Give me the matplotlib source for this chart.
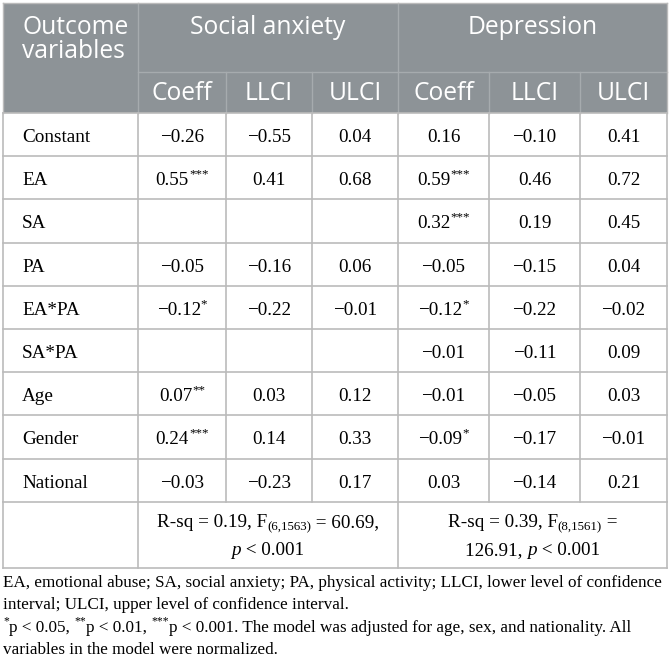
import matplotlib
matplotlib.use('Agg')
from matplotlib import pyplot as plt
from matplotlib.patches import Rectangle

# table content
rows = ['Constant', 'EA', 'SA', 'PA', 'EA*PA', 'SA*PA', 'Age', 'Gender', 'National']
groups = ['Social anxiety', 'Depression']
subheads = ['Coeff', 'LLCI', 'ULCI']

sa_coeff = [-0.26, 0.55, None, -0.05, -0.12, None, 0.07, 0.24, -0.03]
sa_stars = ['', '***', '', '', '*', '', '**', '***', '']
sa_llci = [-0.55, 0.41, None, -0.16, -0.22, None, 0.03, 0.14, -0.23]
sa_ulci = [0.04, 0.68, None, 0.06, -0.01, None, 0.12, 0.33, 0.17]

dep_coeff = [0.16, 0.59, 0.32, -0.05, -0.12, -0.01, -0.01, -0.09, 0.03]
dep_stars = ['', '***', '***', '', '*', '', '', '*', '']
dep_llci = [-0.10, 0.46, 0.19, -0.15, -0.22, -0.11, -0.05, -0.17, -0.14]
dep_ulci = [0.41, 0.72, 0.45, 0.04, -0.02, 0.09, 0.03, -0.01, 0.21]

# pieces: (text, kind)  kind: n normal, b subscript, u superscript, i italic
fit_sa = [[('R-sq = 0.19, F', 'n'), ('(6,1563)', 'b'), (' = 60.69,', 'n')],
          [('p', 'i'), (' < 0.001', 'n')]]
fit_dep = [[('R-sq = 0.39, F', 'n'), ('(8,1561)', 'b'), (' =', 'n')],
           [('126.91, ', 'n'), ('p', 'i'), (' < 0.001', 'n')]]

notes = [[('EA, emotional abuse; SA, social anxiety; PA, physical activity; LLCI, lower level of confidence', 'n')],
         [('interval; ULCI, upper level of confidence interval.', 'n')],
         [('*', 'u'), ('p < 0.05, ', 'n'), ('**', 'u'), ('p < 0.01, ', 'n'), ('***', 'u'),
          ('p < 0.001. The model was adjusted for age, sex, and nationality. All', 'n')],
         [('variables in the model were normalized.', 'n')]]

# layout (pixels)
xs = [3, 138, 226, 312, 398, 489, 580, 667]
top, h1, h2 = 3, 72, 113
rh = 43.2
fit_bot = 568
hdr_col = '#8d9397'
line_col = '#bbbbbb'
hline_col = '#a6abae'
serif = 'Liberation Serif'
sans = 'Open Sans'
fs_body = 13.8
fs_note = 12.3

fig = plt.figure(figsize=(6.70, 6.69), dpi=100)
ax = fig.add_axes([0, 0, 1, 1])
ax.set_xlim(0, 670)
ax.set_ylim(669, 0)
ax.axis('off')
renderer = fig.canvas.get_renderer()


def runs(x, y, parts, fs, ha='center'):
    # draw text pieces side by side on one baseline
    objs = []
    for txt, kind in parts:
        size = fs * 0.68 if kind in 'bu' else fs
        dy = {'b': 0.18, 'u': -0.42}.get(kind, 0) * fs / 0.72
        t = ax.text(0, y + dy, txt, fontsize=size, family=serif, va='baseline',
                    style='italic' if kind == 'i' else 'normal', color='black')
        objs.append(t)
    widths = [t.get_window_extent(renderer).width for t in objs]
    x0 = x - sum(widths) / 2 if ha == 'center' else x
    for t, w in zip(objs, widths):
        t.set_x(x0)
        x0 += w


# header background
ax.add_patch(Rectangle((xs[0], top), xs[-1] - xs[0], h2 - top, color=hdr_col, lw=0))
ax.plot([xs[1], xs[-1]], [h1, h1], color=hline_col, lw=1)
ax.plot([xs[1], xs[1]], [top, h2], color=hline_col, lw=1)
ax.plot([xs[4], xs[4]], [top, h2], color=hline_col, lw=1)
for x in [xs[2], xs[3], xs[5], xs[6]]:
    ax.plot([x, x], [h1, h2], color=hline_col, lw=1)
ax.plot([xs[0], xs[-1]], [top, top], color=line_col, lw=1)
ax.plot([xs[0], xs[0]], [top, h2], color=line_col, lw=1)
ax.plot([xs[-1], xs[-1]], [top, h2], color=line_col, lw=1)

ax.text(xs[0] + 19, 27, 'Outcome', color='white', fontsize=17.7, family=sans, va='center')
ax.text(xs[0] + 19, 52, 'variables', color='white', fontsize=17.7, family=sans, va='center')
for g, name in enumerate(groups):
    ax.text((xs[1 + 3 * g] + xs[4 + 3 * g]) / 2, 27, name, color='white', fontsize=17.7,
            family=sans, ha='center', va='center')
    for k, s in enumerate(subheads):
        c = 1 + 3 * g + k
        ax.text((xs[c] + xs[c + 1]) / 2, 93, s, color='white', fontsize=17.7,
                family=sans, ha='center', va='center')


def fmt(v):
    return f'{v:.2f}'.replace('-', '\u2212')


cols = [(sa_coeff, sa_stars), (sa_llci, None), (sa_ulci, None),
        (dep_coeff, dep_stars), (dep_llci, None), (dep_ulci, None)]

# body rows
ys = [h2 + i * rh for i in range(len(rows) + 1)]
for i, name in enumerate(rows):
    base = (ys[i] + ys[i + 1]) / 2 + 7.5
    ax.text(xs[0] + 19, base, name, fontsize=fs_body, family=serif, va='baseline')
    for c, (vals, stars) in enumerate(cols):
        if vals[i] is None:
            continue
        parts = [(fmt(vals[i]), 'n')]
        if stars and stars[i]:
            parts.append((stars[i], 'u'))
        runs((xs[c + 1] + xs[c + 2]) / 2, base, parts, fs_body)

# fit row
for k in range(2):
    runs((xs[1] + xs[4]) / 2, 527 + k * 28, fit_sa[k], fs_body)
    runs((xs[4] + xs[7]) / 2, 527 + k * 28, fit_dep[k], fs_body)

# grid lines of body
for y in ys + [fit_bot]:
    ax.plot([xs[0], xs[-1]], [y, y], color=line_col, lw=1.2)
for x in xs:
    ax.plot([x, x], [h2, ys[-1]], color=line_col, lw=1.2)
for x in [xs[0], xs[1], xs[4], xs[7]]:
    ax.plot([x, x], [ys[-1], fit_bot], color=line_col, lw=1.2)

# footnotes
for k, parts in enumerate(notes):
    runs(xs[0], 587 + k * 22.3, parts, fs_note, ha='left')

fig.savefig('out.png', dpi=100)
